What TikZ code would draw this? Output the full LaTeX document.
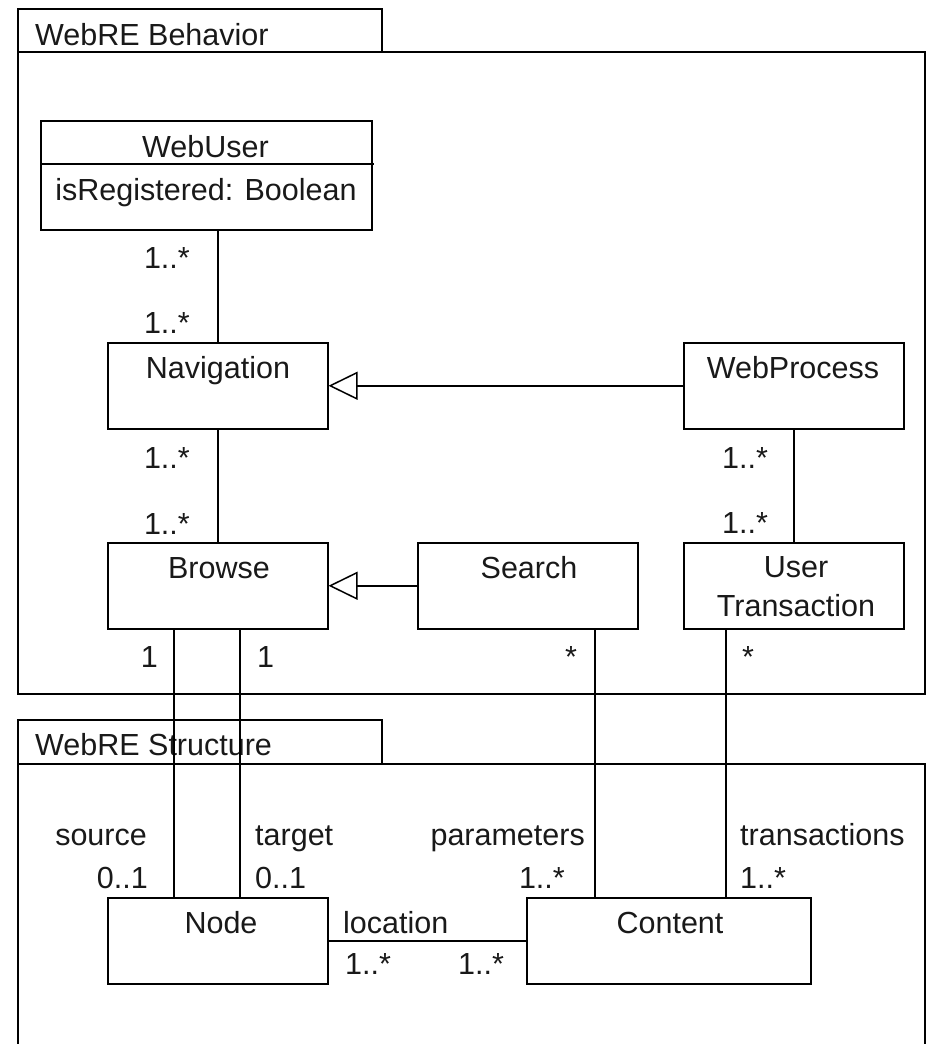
\documentclass[tikz,border=0pt]{standalone}
\usepackage{fontspec}
\setmainfont{Liberation Sans}
\usetikzlibrary{arrows.meta}
\begin{document}
\begin{tikzpicture}[x=1pt,y=-1pt,
  every node/.style={inner sep=0pt, font=\fontsize{30.5}{39}\selectfont, text=black!90},
  pkg/.style={line width=1.5pt},
  cls/.style={draw, line width=1.5pt, anchor=north west, inner sep=0pt},
  conn/.style={line width=1.5pt},
  gen/.style={line width=1.5pt, -{Triangle[open, length=29pt, width=28pt, line width=1.5pt]}},
  lbl/.style={anchor=base},
  ml/.style={anchor=base east},
  mr/.style={anchor=base west}]
\useasboundingbox (0,0) rectangle (928,1044);

% Packages
\draw[pkg] (18,9) rectangle (382,52);
\draw[pkg] (18,52) rectangle (925,694);
\node[mr] (pkgB) at (35,45) {WebRE Behavior};
\draw[pkg] (18,720) rectangle (382,764);
\draw[pkg] (18,1044) -- (18,764) -- (925,764) -- (925,1044);
\node[mr] (pkgS) at (35,755) {WebRE Structure};

% Classes
\node[cls, minimum width=331pt, minimum height=109pt] (webuser) at (40,120) {};
\draw[conn] (40,164) -- (374,164);
\node[lbl] (webuserT) at (205.5,157) {WebUser};
\node[lbl] (webuserA) at (206,200) {isRegistered: Boolean};

\node[cls, minimum width=220pt, minimum height=86pt] (nav) at (107,342) {};
\node[lbl] (navT) at (218,378) {Navigation};

\node[cls, minimum width=220pt, minimum height=86pt] (wp) at (683,342) {};
\node[lbl] (wpT) at (793,378) {WebProcess};

\node[cls, minimum width=220pt, minimum height=86pt] (browse) at (107,542) {};
\node[lbl] (browseT) at (219,578) {Browse};

\node[cls, minimum width=220pt, minimum height=86pt] (search) at (417,542) {};
\node[lbl] (searchT) at (529,578) {Search};

\node[cls, minimum width=220pt, minimum height=86pt] (ut) at (683,542) {};
\node[anchor=center, align=center] (utT) at (796,587) {User\\Transaction};

\node[cls, minimum width=220pt, minimum height=86pt] (node) at (107,897) {};
\node[lbl] (nodeT) at (221,933) {Node};

\node[cls, minimum width=284pt, minimum height=86pt] (content) at (526,897) {};
\node[lbl] (contentT) at (670,933) {Content};

% Connectors
\draw[conn] (webuser.south -| nav.north) -- (nav.north);
\draw[conn] (nav.south) -- (browse.north);
\draw[gen] (wp.west) -- (nav.east);
\draw[gen] (search.west) -- (browse.east);
\draw[conn] (wp.south) -- (ut.north);
\draw[conn] ([xshift=-44pt]browse.south) -- ([xshift=-44pt]node.north);
\draw[conn] ([xshift=22pt]browse.south) -- ([xshift=22pt]node.north);
\draw[conn] ([xshift=67pt]search.south) -- ([xshift=-74pt]content.north);
\draw[conn] ([xshift=-68pt]ut.south) -- ([xshift=57pt]content.north);
\draw[conn] (node.east) -- (content.west);

% Multiplicities and roles
\node[ml] (m1) at (190,268) {1..*};
\node[ml] (m2) at (190,333) {1..*};
\node[ml] (m3) at (190,468) {1..*};
\node[ml] (m4) at (190,534) {1..*};
\node[mr] (m5) at (722,468) {1..*};
\node[mr] (m6) at (722,533) {1..*};
\node[ml] (m7) at (158,667) {1};
\node[mr] (m8) at (257,667) {1};
\node[mr] (m9) at (565,667) {*};
\node[mr] (m10) at (742,667) {*};

\node[ml] (rsrc) at (147,845) {source};
\node[ml] (msrc) at (148,888) {0..1};
\node[mr] (rtgt) at (255,845) {target};
\node[mr] (mtgt) at (255,888) {0..1};
\node[ml] (rpar) at (585,845) {parameters};
\node[ml] (mpar) at (565,888) {1..*};
\node[mr] (rtra) at (740,845) {transactions};
\node[mr] (mtra) at (740,888) {1..*};
\node[mr] (rloc) at (343,933) {location};
\node[mr] (mloc1) at (345,974) {1..*};
\node[mr] (mloc2) at (458,974) {1..*};
\end{tikzpicture}
\end{document}
